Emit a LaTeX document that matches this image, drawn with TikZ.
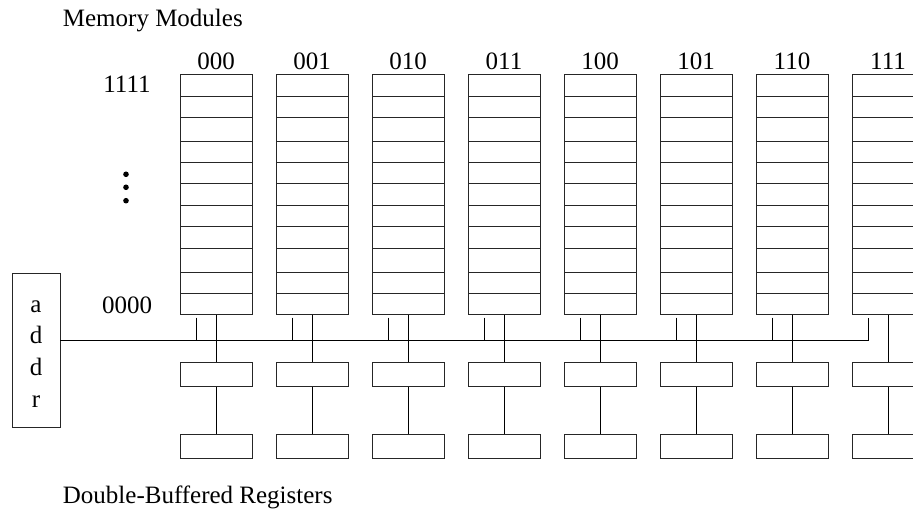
\documentclass[tikz,border=0pt]{standalone}
\usepackage{fontspec}
\setmainfont{Liberation Serif}
\begin{document}
\begin{tikzpicture}[x=1pt,y=-1pt,
  ln/.style={line width=0.9pt,draw=black!85},
  module/.style={ln,rectangle,inner sep=0pt,minimum width=72pt,minimum height=239.6pt},
  reg/.style={ln,rectangle,inner sep=0pt,minimum width=72pt,minimum height=24pt},
  lbl/.style={inner sep=0pt,anchor=base,font=\fontsize{25}{30}\selectfont},
  wire/.style={line width=0.9pt,draw=black}]
\useasboundingbox (0,0) rectangle (913,510);
\clip (0,0) rectangle (913,510);
\node[lbl,anchor=base west] (title) at (62.7,26.7) {Memory Modules};
\node[lbl,anchor=base west] (bottitle) at (62.7,503) {Double-Buffered Registers};
\node[lbl] (hi) at (127,92.3) {1111};
\node[lbl] (lo) at (127,313.3) {0000};
\foreach \yy/\nm in {174.3/d1,187.3/d2,200.7/d3}
  \fill[black] (126,\yy) circle[radius=2.8] coordinate (\nm);
\node[ln,rectangle,inner sep=0pt,minimum width=48pt,minimum height=154.4pt] (addr) at (36,350.5) {};
\foreach \ch/\yy/\nm in {a/312.3/la,d/344/lb,d/375.7/lc,r/407.3/ld}
  \node[lbl] (\nm) at (36,\yy) {\ch};
\coordinate (busstart) at (60,340.7);
\coordinate (busend) at (868,340.7);
\coordinate (busup) at (868,317.7);
\draw[wire] (addr.east |- busstart) -- (busend) -- (busup);
\foreach \lab [count=\k from 0] in {000,001,010,011,100,101,110,111}{
  \pgfmathsetmacro{\cx}{216+96*\k}
  \pgfmathsetmacro{\xl}{\cx-36}
  \pgfmathsetmacro{\xr}{\cx+36}
  \pgfmathsetmacro{\xs}{\cx-20}
  \node[module] (m\k) at (\cx,194.5) {};
  \node[lbl] (t\k) at (\cx,69.3) {\lab};
  \foreach \yy in {96,117.3,141,162.7,183.7,205.3,226.7,248.3,272.3,293.3}
    \draw[ln] (\xl,\yy) -- (\xr,\yy);
  \node[reg] (ra\k) at (\cx,374.7) {};
  \node[reg] (rb\k) at (\cx,446.3) {};
  \draw[wire] (m\k.south) -- (ra\k.north);
  \draw[wire] (ra\k.south) -- (rb\k.north);
  \ifnum\k<7
    \coordinate (s\k) at (\xs,317.7);
    \draw[wire] (s\k) -- (s\k |- busstart);
  \fi
}
\end{tikzpicture}
\end{document}
